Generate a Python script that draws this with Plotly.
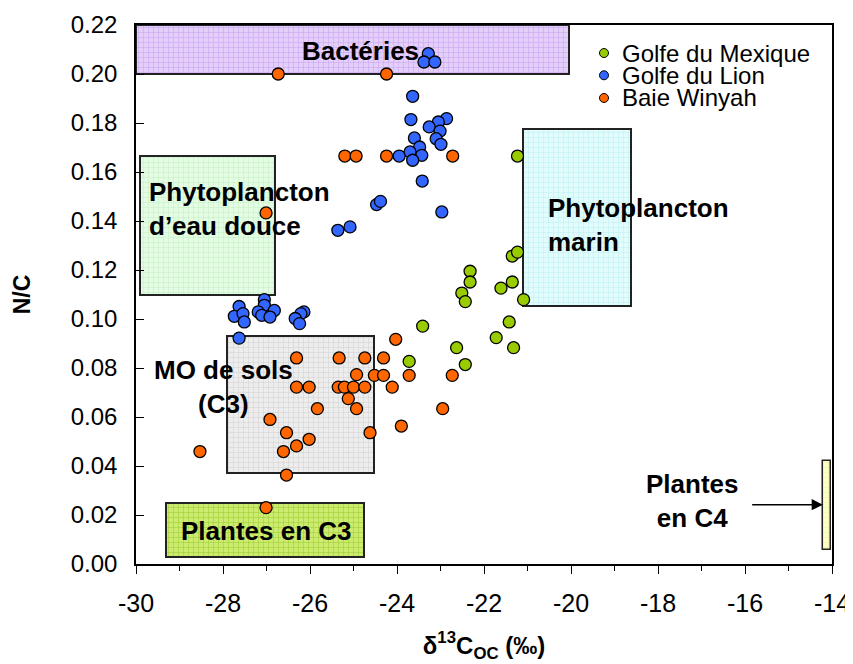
import plotly.graph_objects as go

# ---------------- data ----------------
gm_x = [-21.23, -21.35, -21.23, -22.32, -22.32, -21.35, -21.61, -22.51, -22.43,
        -21.09, -23.41, -21.42, -21.72, -21.32, -22.63, -23.72, -22.43]
gm_y = [0.1665, 0.1257, 0.1273, 0.1195, 0.1151, 0.1151, 0.1126, 0.1106, 0.1071,
        0.1079, 0.0971, 0.0988, 0.0924, 0.0883, 0.0883, 0.0827, 0.0814]

gl_x = [-23.28, -23.38, -23.13, -23.64, -23.68, -22.86, -23.05, -23.26, -23.01,
        -23.10, -22.99, -23.60, -23.48, -23.70, -23.43, -23.64, -23.95, -23.42,
        -24.47, -24.38, -22.97, -25.36, -25.08,
        -27.63, -27.74, -27.54, -27.51,
        -27.05, -27.05, -27.19, -26.82, -27.11, -26.92,
        -26.14, -26.21, -26.34, -26.24, -27.63]
gl_y = [0.2083, 0.2049, 0.2049, 0.1909, 0.1814, 0.1818, 0.1804, 0.1784, 0.1767,
        0.1736, 0.1713, 0.1739, 0.1702, 0.1682, 0.1668, 0.1648, 0.1665, 0.1563,
        0.1467, 0.1480, 0.1437, 0.1362, 0.1376,
        0.1051, 0.1011, 0.1022, 0.0988,
        0.1079, 0.1056, 0.1029, 0.1035, 0.1015, 0.1008,
        0.1029, 0.1022, 0.1002, 0.0981, 0.0922]

bw_x = [-26.73, -24.24, -25.20, -24.94, -24.24, -22.72, -27.01, -24.03,
        -26.31, -25.33, -24.74, -24.31, -24.93, -24.52, -24.31, -23.72, -22.73,
        -26.31, -26.02, -25.35, -25.21, -25.00, -24.74, -24.11, -25.12,
        -25.83, -24.93, -22.95, -26.92, -23.90, -26.54, -24.62,
        -28.53, -26.61, -26.31, -26.02, -26.54, -27.01]
bw_y = [0.2000, 0.2000, 0.1665, 0.1665, 0.1665, 0.1665, 0.1433, 0.0917,
        0.0841, 0.0841, 0.0841, 0.0841, 0.0773, 0.0770, 0.0770, 0.0770, 0.0770,
        0.0722, 0.0722, 0.0722, 0.0722, 0.0722, 0.0722, 0.0722, 0.0675,
        0.0634, 0.0634, 0.0634, 0.0590, 0.0563, 0.0536, 0.0536,
        0.0459, 0.0459, 0.0482, 0.0509, 0.0363, 0.0230]

series_names = ["Golfe du Mexique", "Golfe du Lion", "Baie Winyah"]
series_colors = ["#99CC00", "#3366FF", "#FF6600"]

# source domains (x0, x1, y0, y1)
box_names = ["Bactéries", "Phytoplancton d'eau douce", "MO de sols (C3)",
             "Phytoplancton marin", "Plantes en C3", "Plantes en C4"]
box_x0 = [-30.0, -29.9, -27.9, -21.1, -29.3, -14.21]
box_x1 = [-20.05, -26.8, -24.53, -18.63, -24.75, -14.03]
box_y0 = [0.200, 0.1097, 0.037, 0.1055, 0.003, 0.0056]
box_y1 = [0.220, 0.1665, 0.093, 0.1775, 0.025, 0.042]
box_bg = ["#E4CEFA", "#E4FCE4", "#EDEDED", "#E2FCFC", "#CDEB6E", "#FFFFC8"]
box_fg = ["#C9A2F0", "#C2EEC2", "#D2D2D2", "#BDEEF4", "#9CCB34", "#EEEEA8"]

x_ticks = [-30, -28, -26, -24, -22, -20, -18, -16, -14]
x_ticktext = ["-30", "-28", "-26", "-24", "-22", "-20", "-18", "-16", "-14"]

FONT = "Liberation Sans, Arial, sans-serif"

fig = go.Figure()

for i in range(len(box_names)):
    fig.add_trace(go.Bar(
        x=[(box_x0[i] + box_x1[i]) / 2], y=[box_y1[i] - box_y0[i]],
        base=[box_y0[i]], width=[box_x1[i] - box_x0[i]],
        marker=dict(color=box_bg[i],
                    line=dict(color="#222222", width=2 if i < 5 else 1.5),
                    pattern=dict(shape="+", fillmode="replace", bgcolor=box_bg[i],
                                 fgcolor=box_fg[i], size=5, solidity=0.2)),
        showlegend=False, hoverinfo="skip", name=box_names[i]))

for xs, ys, nm, col in [(gm_x, gm_y, series_names[0], series_colors[0]),
                        (gl_x, gl_y, series_names[1], series_colors[1]),
                        (bw_x, bw_y, series_names[2], series_colors[2])]:
    fig.add_trace(go.Scatter(
        x=xs, y=ys, mode="markers", name=nm, showlegend=False,
        marker=dict(color=col, size=12, line=dict(color="black", width=1.3))))

ann = []
def txt(x, y, s, xanchor="center", align="center"):
    ann.append(dict(x=x, y=y, xref="x", yref="y", text="<b>" + s + "</b>",
                    showarrow=False, xanchor=xanchor, yanchor="middle", align=align,
                    font=dict(family=FONT, size=26, color="black")))

txt(-24.85, 0.2095, "Bactéries")
txt(-29.75, 0.1448, "Phytoplancton<br>d’eau douce", xanchor="left", align="left")
txt(-20.57, 0.1385, "Phytoplancton<br>marin", xanchor="left", align="left")
txt(-28.0, 0.0722, "MO de sols<br>(C3)")
txt(-27.0, 0.0136, "Plantes en C3")
txt(-17.2, 0.0258, "Plantes<br>en C4")

# arrow to C4 box
ann.append(dict(x=-14.21, y=0.0242, ax=-15.87, ay=0.0242, xref="x", yref="y",
                axref="x", ayref="y", text="", showarrow=True, arrowhead=2,
                arrowsize=1.4, arrowwidth=1.6, arrowcolor="black"))

# custom legend
leg_y = [0.948, 0.9067, 0.8646]
shapes = []
for i in range(3):
    shapes.append(dict(type="circle", xref="paper", yref="paper",
                       xsizemode="pixel", ysizemode="pixel",
                       xanchor=0.6724, yanchor=leg_y[i],
                       x0=-4.5, x1=4.5, y0=-4.5, y1=4.5,
                       fillcolor=series_colors[i], line=dict(color="black", width=1)))
    ann.append(dict(x=0.6954, y=leg_y[i], xref="paper", yref="paper",
                    text=series_names[i], showarrow=False, xanchor="left",
                    yanchor="middle", font=dict(family=FONT, size=24, color="black")))

fig.update_layout(
    width=853, height=664, barmode="overlay", bargap=0,
    margin=dict(l=128, r=29, t=17, b=108, pad=0, autoexpand=False),
    paper_bgcolor="white", plot_bgcolor="white",
    font=dict(family=FONT, size=24, color="black"),
    annotations=ann, shapes=shapes, showlegend=False,
    xaxis=dict(range=[-30, -14], tickvals=x_ticks, ticktext=x_ticktext,
               automargin=False,
               ticks="outside", ticklen=8, tickwidth=1.3, tickcolor="black",
               minor=dict(dtick=1, ticks="outside", ticklen=5, tickwidth=1.3,
                          tickcolor="black"),
               showline=True, linecolor="black", linewidth=1.5, mirror=True,
               showgrid=False, zeroline=False, ticklabelstandoff=8,
               tickfont=dict(family=FONT, size=25),
               title=dict(text="<b>δ<sup>13</sup>C<sub>OC</sub> (‰)</b>",
                          font=dict(family=FONT, size=24), standoff=21)),
    yaxis=dict(range=[0, 0.22], dtick=0.02, tickformat=".2f",
               automargin=False,
               ticks="inside", ticklen=8, tickwidth=1.3, tickcolor="black",
               showline=True, linecolor="black", linewidth=1.5, mirror=True,
               showgrid=False, zeroline=False, ticklabelstandoff=12,
               tickfont=dict(family=FONT, size=24),
               title=dict(text="<b>N/C</b>", font=dict(family=FONT, size=23),
                          standoff=34)),
)

fig.write_html("out.html")
